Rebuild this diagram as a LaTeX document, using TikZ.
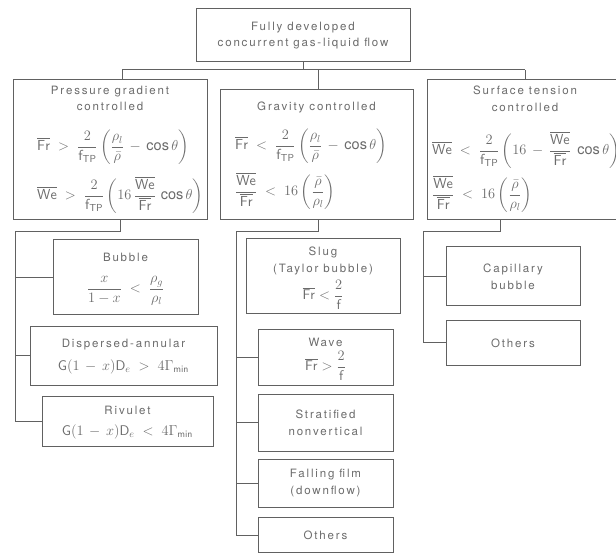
\documentclass[tikz,border=0pt]{standalone}
\usepackage{amsmath}
\usepackage{fontspec}
\setmainfont[LetterSpace=16]{TeX Gyre Heros}
\newcommand\Frb{\overline{\mathsf{Fr}}}
\newcommand\Web{\overline{\mathsf{We}}}
\newcommand\fTP{\mathsf{f}_{\mathsf{TP}}}
\begin{document}
\begin{tikzpicture}[x=1pt,y=-1pt,
  box/.style={draw=black!62, line width=1pt, rectangle, inner sep=2pt, align=center,
    text=black!58, font=\fontsize{11.5}{17}\selectfont},
  lbl/.style={inner sep=0pt, align=center, text=black!58, font=\fontsize{11.5}{16.5}\selectfont},
  fm/.style={inner sep=0pt, text=black!58, font=\fontsize{14.5}{17}\selectfont},
  fs/.style={inner sep=0pt, text=black!58, font=\fontsize{14}{17}\selectfont},
  link/.style={draw=black!62, line width=1pt}]
\useasboundingbox (0,0) rectangle (616,553);
\fill[white] (0,0) rectangle (616,553);

% top
\node[box, minimum width=214pt, minimum height=53pt, font=\fontsize{11.5}{16}\selectfont] (top) at (303,35.5)
  {Fully developed\\concurrent gas-liquid flow};

% level 2 boxes
\node[box, minimum width=194pt, minimum height=140pt] (P) at (110,150) {};
\node[box, minimum width=193pt, minimum height=130pt] (G) at (316.5,155) {};
\node[box, minimum width=198pt, minimum height=140pt] (S) at (526,150) {};

\node[lbl] (Pt) at (110,98.5) {Pressure gradient\\controlled};
\node[fm, anchor=west] (Pf1) at (37,147)
  {$\Frb \;>\; \dfrac{2}{\fTP}\left(\dfrac{\rho_l}{\bar\rho} \,-\, \cos\theta\right)$};
\node[fm, anchor=west] (Pf2) at (37,195)
  {$\Web \;>\; \dfrac{2}{\fTP}\left(16\,\dfrac{\Web}{\Frb}\,\cos\theta\right)$};

\node[lbl] (Gt) at (316.5,107) {Gravity controlled};
\node[fm, anchor=west] (Gf1) at (235,146)
  {$\Frb \;<\; \dfrac{2}{\fTP}\left(\dfrac{\rho_l}{\bar\rho} \,-\, \cos\theta\right)$};
\node[fm, anchor=west] (Gf2) at (235,191)
  {$\dfrac{\Web}{\Frb} \;<\; 16\left(\dfrac{\bar\rho}{\rho_l}\right)$};

\node[lbl] (St) at (525,99) {Surface tension\\controlled};
\node[fm, anchor=west] (Sf1) at (432,150)
  {$\Web \;<\; \dfrac{2}{\fTP}\left(16 \,-\, \dfrac{\Web}{\Frb}\;\cos\theta\right)$};
\node[fm, anchor=west] (Sf2) at (432,194)
  {$\dfrac{\Web}{\Frb} \;<\; 16\left(\dfrac{\bar\rho}{\rho_l}\right)$};

% left children
\node[box, minimum width=145pt, minimum height=75pt] (Bub) at (125.5,277.5) {};
\node[lbl] (Bubt) at (125.5,257) {Bubble};
\node[fs] (Bubf) at (125.5,291) {$\dfrac{x}{1-x} \;<\; \dfrac{\rho_g}{\rho_l}$};
\node[box, minimum width=187pt, minimum height=58pt] (Disp) at (123.5,356) {};
\node[lbl] (Dispt) at (123.5,345) {Dispersed-annular};
\node[fs] (Dispf) at (123.5,367) {$\mathsf{G}(1 \,-\, x)\mathsf{D}_e \;>\; 4\Gamma_{\mathsf{min}}$};
\node[box, minimum width=171pt, minimum height=50pt] (Riv) at (127.5,421) {};
\node[lbl] (Rivt) at (127.5,410) {Rivulet};
\node[fs] (Rivf) at (127.5,432) {$\mathsf{G}(1 \,-\, x)\mathsf{D}_e \;<\; 4\Gamma_{\mathsf{min}}$};

% middle children
\node[box, minimum width=154pt, minimum height=75pt] (Slug) at (323,276.5) {};
\node[lbl] (Slugt) at (323,261) {Slug\\(Taylor bubble)};
\node[fs] (Slugf) at (323,295) {$\Frb < \dfrac{2}{\mathsf{f}}$};
\node[box, minimum width=135pt, minimum height=55pt] (Wave) at (325.5,357.5) {};
\node[lbl] (Wavet) at (325.5,342) {Wave};
\node[fs] (Wavef) at (325.5,366) {$\Frb > \dfrac{2}{\mathsf{f}}$};
\node[box, minimum width=135pt, minimum height=57pt] (Strat) at (325.5,422.5)
  {Stratified\\nonvertical};
\node[box, minimum width=135pt, minimum height=48pt] (Fall) at (325.5,483)
  {Falling film\\(downflow)};
\node[box, minimum width=135pt, minimum height=35pt] (OthG) at (325.5,535)
  {Others};

% right children
\node[box, minimum width=134pt, minimum height=59pt] (Cap) at (513,276.5)
  {Capillary\\bubble};
\node[box, minimum width=134pt, minimum height=45pt] (OthS) at (513,343)
  {Others};

% connectors
\coordinate (bT) at (303,70);
\coordinate (bL) at (122,70);
\coordinate (bM) at (318,70);
\coordinate (bR) at (525,70);
\draw[link] (top.south) -- (bT);
\draw[link] (bL) -- (bR);
\draw[link] (bL) -- (bL |- P.north);
\draw[link] (bM) -- (bM |- G.north);
\draw[link] (bR) -- (bR |- S.north);

\coordinate (pa) at (120,232);
\coordinate (la) at (15,232);
\draw[link] (pa |- P.south) -- (pa) -- (la) |- (Riv.west);
\draw[link] (Bub.west) -- (Bub.west -| la);
\draw[link] (Disp.west) -- (Disp.west -| la);

\coordinate (ma) at (318,232);
\coordinate (mb) at (236,232);
\draw[link] (ma |- G.south) -- (ma) -- (mb) |- (OthG.west);
\draw[link] (Wave.west) -- (Wave.west -| mb);
\draw[link] (Strat.west) -- (Strat.west -| mb);
\draw[link] (Fall.west) -- (Fall.west -| mb);

\coordinate (ra) at (500,232);
\coordinate (rb) at (423,232);
\draw[link] (ra |- S.south) -- (ra) -- (rb) |- (OthS.west);
\draw[link] (Cap.west) -- (Cap.west -| rb);
\end{tikzpicture}
\end{document}
